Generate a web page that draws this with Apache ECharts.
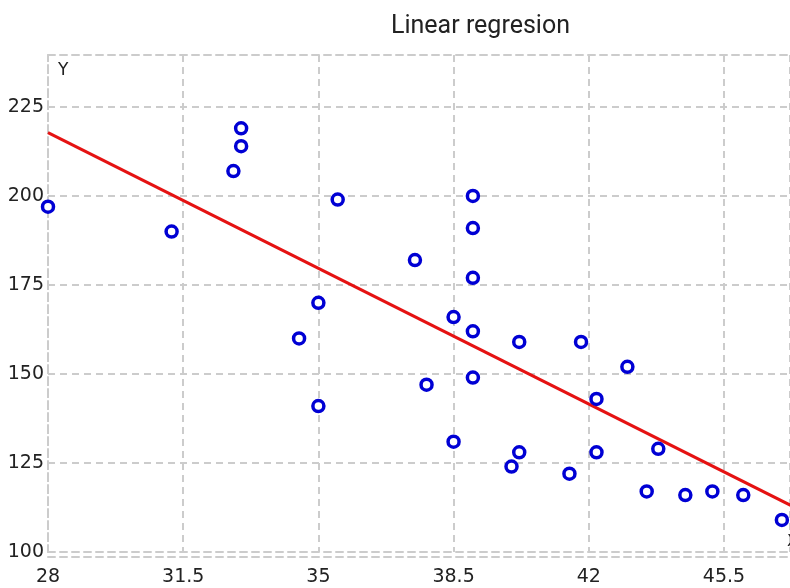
<!DOCTYPE html>
<html>
<head>
<meta charset="utf-8">
<script src="https://cdn.jsdelivr.net/npm/echarts@6/dist/echarts.min.js"></script>
<style>html,body{margin:0;padding:0;background:#fff;overflow:hidden;}#c{width:790px;height:588px;}</style>
</head>
<body>
<div id="c"></div>
<script>
// Observed points (X, Y)
var xValues = [28, 31.2, 32.8, 33, 33, 35.5, 34.5, 35, 35, 37.5, 37.8, 38.5, 38.5, 39, 39, 39, 39, 39, 40.2, 40.2, 40, 41.8, 41.5, 42.2, 42.2, 43, 43.5, 43.8, 44.5, 45.2, 46, 47];
var yValues = [197, 190, 207, 214, 219, 199, 160, 170, 141, 182, 147, 166, 131, 200, 191, 177, 162, 149, 159, 128, 124, 159, 122, 143, 128, 152, 117, 129, 116, 117, 116, 109];
// Regression line end points
var lineX = [28, 47.3];
var lineY = [217.8, 112.7];
var xTicks = [28, 31.5, 35, 38.5, 42, 45.5];
var yTicks = [100, 125, 150, 175, 200, 225];

var points = xValues.map(function (x, i) { return [x, yValues[i]]; });
var lineData = lineX.map(function (x, i) { return [x, lineY[i]]; });

var gridLine = { color: '#cccccc', width: 2, type: [7, 5] };
var font = 'DejaVu Sans';

var chart = echarts.init(document.getElementById('c'), null, { renderer: 'canvas' });
chart.setOption({
  animation: false,
  backgroundColor: '#ffffff',
  title: {
    text: 'Linear regresion',
    left: 386,
    top: 9,
    textStyle: { fontFamily: 'Roboto', fontSize: 25, fontWeight: 'normal', color: '#222' }
  },
  grid: { left: 48, top: 55, right: 0, bottom: 36, containLabel: false, outerBoundsMode: 'none' },
  xAxis: [{
    type: 'value',
    min: 28, max: 47.21, interval: 3.5,
    name: 'X', nameLocation: 'end', nameGap: -3,
    nameTextStyle: { fontFamily: font, fontSize: 16, color: '#222', verticalAlign: 'bottom', align: 'left', padding: [0, 0, 2, 0] },
    axisLine: { show: true, lineStyle: gridLine },
    axisTick: { show: false },
    axisLabel: {
      fontFamily: font, fontSize: 19, color: '#222', margin: 16, showMaxLabel: false,
      formatter: function (v) { return xTicks.indexOf(v) >= 0 ? String(v) : ''; }
    },
    splitLine: { show: true, lineStyle: gridLine }
  }, {
    type: 'value', position: 'top',
    min: 28, max: 47.21,
    axisLine: { show: true, lineStyle: gridLine },
    axisTick: { show: false }, axisLabel: { show: false }, splitLine: { show: false }
  }, {
    type: 'value', position: 'bottom', offset: 5,
    min: 28, max: 47.21,
    axisLine: { show: true, lineStyle: gridLine },
    axisTick: { show: false }, axisLabel: { show: false }, splitLine: { show: false }
  }],
  yAxis: {
    type: 'value',
    min: 100, max: 239.6, interval: 25,
    name: 'Y', nameLocation: 'end', nameGap: -24,
    nameTextStyle: { fontFamily: font, fontSize: 17, color: '#222', align: 'left', padding: [0, 0, 0, 10] },
    axisLine: { show: true, lineStyle: gridLine },
    axisTick: { show: false },
    axisLabel: {
      fontFamily: font, fontSize: 19, color: '#222', margin: 4, showMaxLabel: false,
      formatter: function (v) { return yTicks.indexOf(v) >= 0 ? String(v) : ''; }
    },
    splitLine: { show: true, lineStyle: gridLine }
  },
  series: [{
    type: 'line',
    data: lineData,
    showSymbol: false,
    clip: true,
    lineStyle: { color: '#e51212', width: 3 },
    z: 2
  }, {
    type: 'scatter',
    data: points,
    symbol: 'circle',
    symbolSize: 11,
    clip: true,
    itemStyle: { color: '#ffffff', borderColor: '#0000d4', borderWidth: 3.5, opacity: 1 },
    z: 3
  }]
});
</script>
</body>
</html>
